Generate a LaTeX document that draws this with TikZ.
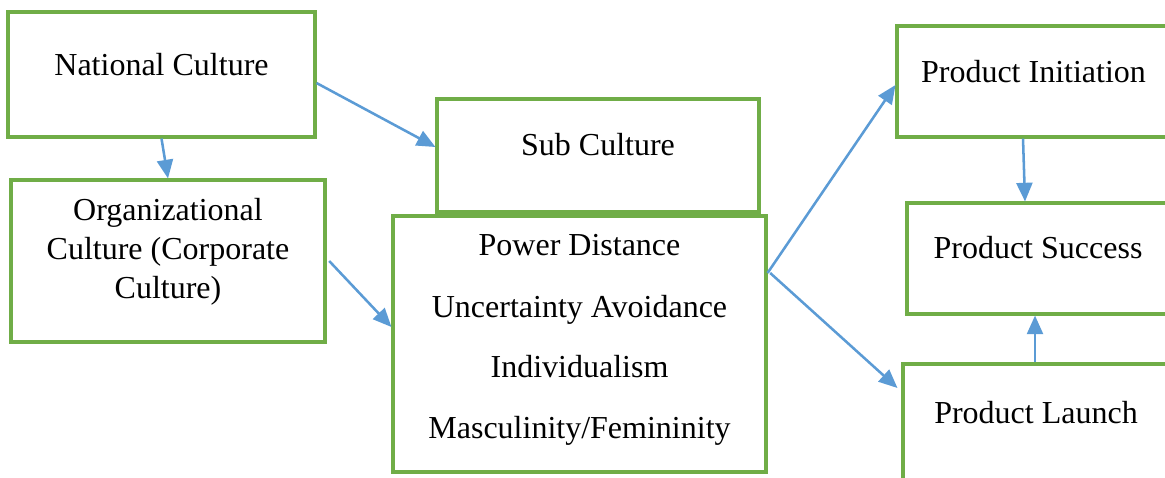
\documentclass[tikz,border=0pt]{standalone}
\usepackage{fontspec}
\setmainfont{Liberation Serif}
\usetikzlibrary{arrows.meta}

\definecolor{boxgreen}{HTML}{70AD47}
\definecolor{flowblue}{HTML}{5B9BD5}
\newcommand\pxu{0.375pt}

\tikzset{
	blk/.style={draw=boxgreen, line width=1.15pt, rectangle, inner sep=0pt},
	lbl/.style={anchor=base, inner sep=0pt, font=\fontsize{12}{14.4}\selectfont},
	flow/.style={draw=flowblue, line width=0.95pt, -{Triangle[length=7pt,width=6pt]}}
}

\begin{document}
\begin{tikzpicture}[x=0.375pt, y=-0.375pt]

\clip (0,0) rectangle (1165,477);

% boxes
\node[blk, minimum width=307*\pxu, minimum height=125*\pxu] (nat) at (161.5,74.5) {};
\node[blk, minimum width=314*\pxu, minimum height=162*\pxu] (org) at (168,261) {};
\node[blk, minimum width=322*\pxu, minimum height=113*\pxu] (sub) at (598,155.5) {};
\node[blk, minimum width=373*\pxu, minimum height=256*\pxu] (dims) at (579.5,344) {};
\node[blk, minimum width=273*\pxu, minimum height=111*\pxu] (pinit) at (1033.5,81.5) {};
\node[blk, minimum width=262*\pxu, minimum height=111*\pxu] (psucc) at (1038,258.5) {};
\node[blk, minimum width=266*\pxu, minimum height=126*\pxu] (plaunch) at (1036,427) {};

% texts
\node[lbl] (natt) at (161.5,75) {National Culture};
\node[lbl] (orgt1) at (168,220) {Organizational};
\node[lbl] (orgt2) at (168,259) {Culture (Corporate};
\node[lbl] (orgt3) at (168,298) {Culture)};
\node[lbl] (subt) at (598,155) {Sub Culture};
\node[lbl] (pd) at (579.5,255) {Power Distance};
\node[lbl] (ua) at (579.5,317) {Uncertainty Avoidance};
\node[lbl] (ind) at (579.5,377) {Individualism};
\node[lbl] (mf) at (579.5,438) {Masculinity/Femininity};
\node[lbl] (pinitt) at (1033.5,82) {Product Initiation};
\node[lbl] (psucct) at (1038,258) {Product Success};
\node[lbl] (plauncht) at (1036,423) {Product Launch};

% connectors
\draw[flow] (nat.east |- 0,83) -- (sub.west |- 0,147);
\draw[flow] (nat.south) -- (org.north);
\draw[flow] ([xshift=1pt]org.east) -- (dims.west |- 0,327);
\draw[flow] (dims.east |- 0,273) -- (pinit.west |- 0,85);
\draw[flow] ([xshift=1pt]dims.east |- 0,273) -- ([xshift=-1.5pt]plaunch.west |- 0,388);
\draw[flow] (pinit.south -| 1023,0) -- (psucc.north -| 1025,0);
\draw[flow] (plaunch.north -| 1035,0) -- (psucc.south -| 1035,0);

\end{tikzpicture}
\end{document}
